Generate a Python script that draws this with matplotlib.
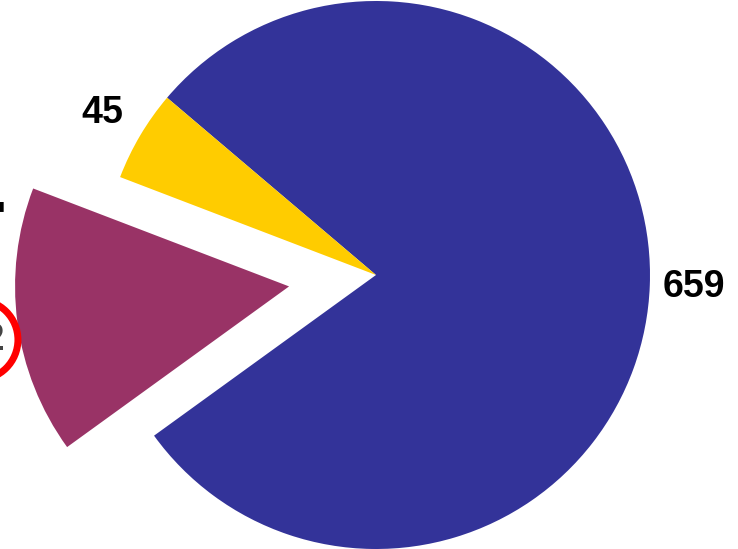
import matplotlib
matplotlib.use("Agg")
from matplotlib import pyplot as plt
from matplotlib.patches import Circle

# slice values, counter-clockwise from the start angle
values = [659, 45, 132]
labels = ["659", "45", "132"]
colors = ["#333399", "#FFCC00", "#993366"]
R = 274
explode = [0, 0, 0.32 * R]  # pie() offsets in data units

W, H = 738, 549
fig = plt.figure(figsize=(W / 100, H / 100), dpi=100)
ax = fig.add_axes([0, 0, 1, 1])

wedges, texts = ax.pie(values, labels=labels, colors=colors, explode=explode,
                       startangle=215.9, center=(376, -275), radius=R,
                       labeldistance=1.16, frame=True,
                       textprops=dict(fontsize=27, fontweight="bold",
                                      family="Liberation Sans", ha="center", va="center"))
ax.set_xlim(0, W)
ax.set_ylim(-H, 0)
ax.set_aspect("equal")
ax.axis("off")

# the exploded slice label sits off the left edge, ringed in red
lbl = texts[2]
lbl.set_color("#444444")
lx, ly = lbl.get_position()
lbl.set_position((lx, ly - 12))
ax.add_patch(Circle((lx + 4, ly - 12), 40, fill=False, edgecolor="red", lw=5, clip_on=False))

ax.text(-1, -206, "■", fontsize=9, ha="center", va="center", color="black")

fig.savefig("out.png", dpi=100)
